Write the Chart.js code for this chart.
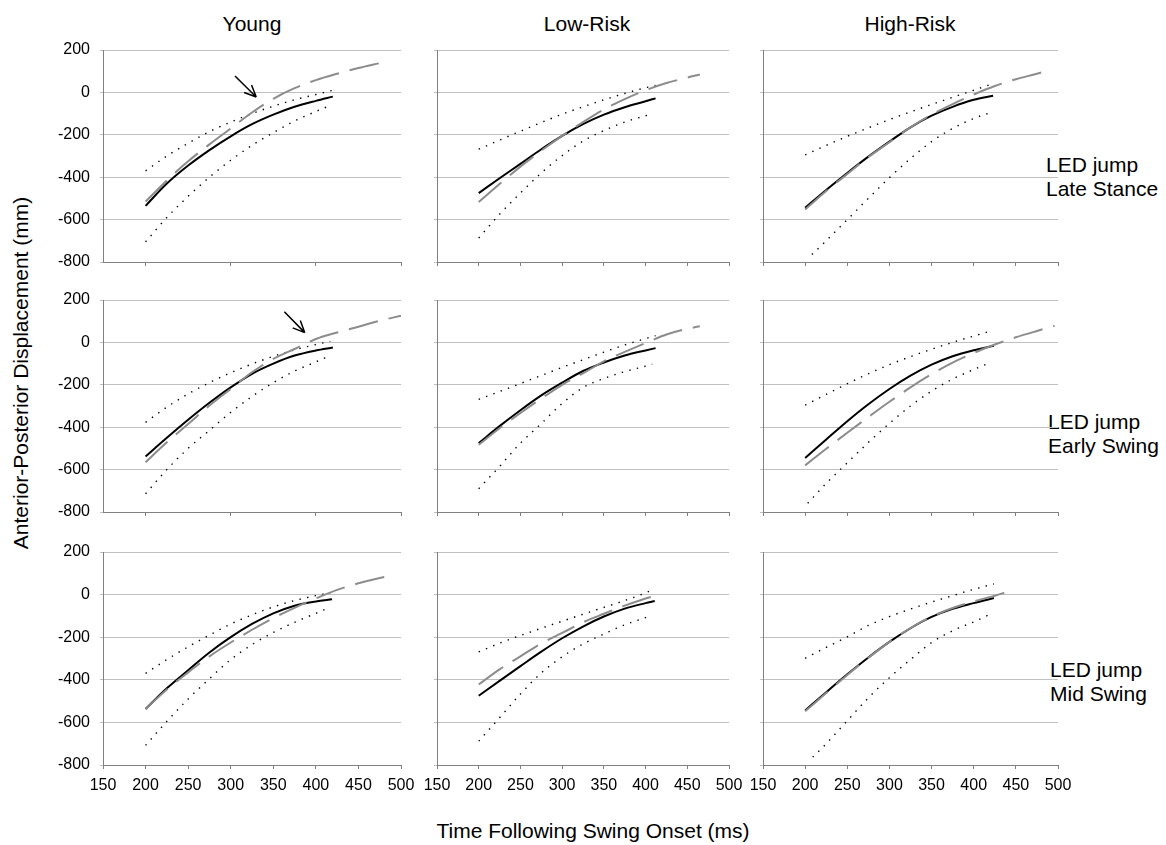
<!DOCTYPE html>
<html lang="en">
<head>
<meta charset="utf-8">
<title>Anterior-Posterior Displacement</title>
<script src="https://cdn.jsdelivr.net/npm/chart.js@4.4.1/dist/chart.umd.min.js"></script>
<style>
    body { margin: 0; background: #fff; }
    #figura {
        position: relative;
        width: 1166px;
        height: 845px;
        overflow: hidden;
        font-family: Arial, "Liberation Sans", sans-serif;
        color: #000;
    }
    #figura canvas { position: absolute; }
    .rotulo {
        position: absolute;
        white-space: nowrap;
        line-height: 1;
        font-size: 21px;
        transform: translate(-50%, -50%);
    }
    .linha-rotulo {
        position: absolute;
        white-space: nowrap;
        font-size: 21px;
        line-height: 23.5px;
    }
</style>
</head>
<body>
<div id="figura">
    <div class="rotulo" style="left:252px; top:23px;">Young</div>
    <div class="rotulo" style="left:587px; top:23px;">Low-Risk</div>
    <div class="rotulo" style="left:910px; top:23px;">High-Risk</div>

    <div class="linha-rotulo" style="left:1046px; top:153px;">LED jump<br>Late Stance</div>
    <div class="linha-rotulo" style="left:1048px; top:410px;">LED jump<br>Early Swing</div>
    <div class="linha-rotulo" style="left:1050px; top:658px;">LED jump<br>Mid Swing</div>

    <div class="rotulo" style="left:20px; top:373px; transform: translate(-50%, -50%) rotate(-90deg);">Anterior-Posterior Displacement (mm)</div>
    <div class="rotulo" style="left:593px; top:830px;">Time Following Swing Onset (ms)</div>
</div>

<script>
// Eixos comuns a todos os painéis
const limitesX = [150, 500];
const passoX = 50;
const limitesY = [-800, 200];
const passoY = 200;

// Young - Late Stance
const mediaYoungLate = [[200,-535],[225,-430],[250,-345],[275,-272],[300,-207],[325,-150],[350,-105],[375,-68],[400,-40],[420,-20]];
const previstoYoungLate = [[200,-515],[225,-415],[250,-325],[275,-245],[300,-170],[325,-95],[350,-30],[375,20],[400,58],[425,88],[450,115],[475,138]];
const supYoungLate = [[200,-370],[225,-300],[250,-240],[275,-185],[300,-140],[325,-100],[350,-65],[375,-35],[400,-10],[420,10]];
const infYoungLate = [[200,-705],[225,-590],[250,-490],[275,-400],[300,-320],[325,-250],[350,-190],[375,-135],[400,-90],[415,-65]];

// Low-Risk - Late Stance
const mediaLowLate = [[200,-475],[225,-405],[250,-337],[275,-268],[300,-205],[325,-150],[350,-105],[375,-70],[400,-42],[412,-28]];
const previstoLowLate = [[200,-517],[225,-432],[250,-350],[275,-275],[300,-205],[325,-140],[350,-80],[375,-32],[400,10],[425,44],[450,70],[465,84]];
const supLowLate = [[200,-268],[225,-225],[250,-183],[275,-142],[300,-103],[325,-68],[350,-35],[375,-5],[400,22],[412,33]];
const infLowLate = [[200,-687],[225,-575],[250,-475],[275,-380],[300,-298],[325,-230],[350,-180],[375,-140],[400,-110],[408,-101]];

// High-Risk - Late Stance
const mediaHighLate = [[200,-544],[225,-460],[250,-380],[275,-303],[300,-232],[325,-165],[350,-110],[375,-68],[400,-35],[423,-16]];
const previstoHighLate = [[200,-552],[225,-465],[250,-385],[275,-305],[300,-235],[325,-165],[350,-105],[375,-55],[400,-10],[425,30],[450,62],[475,88],[488,103]];
const supHighLate = [[200,-295],[225,-250],[250,-207],[275,-167],[300,-128],[325,-92],[350,-57],[375,-23],[400,10],[422,40]];
const infHighLate = [[208,-765],[225,-700],[250,-600],[275,-500],[300,-402],[325,-312],[350,-232],[375,-170],[400,-123],[420,-95]];

// Young - Early Swing
const mediaYoungEarly = [[200,-538],[225,-450],[250,-365],[275,-285],[300,-212],[325,-148],[350,-100],[375,-62],[400,-38],[420,-24]];
const previstoYoungEarly = [[200,-565],[225,-471],[250,-385],[275,-298],[300,-220],[325,-141],[350,-78],[375,-31],[400,16],[425,47],[450,74],[475,102],[500,126]];
const supYoungEarly = [[200,-377],[225,-305],[250,-243],[275,-190],[300,-143],[325,-102],[350,-66],[375,-35],[400,-10],[417,5]];
const infYoungEarly = [[200,-714],[225,-600],[250,-500],[275,-415],[300,-330],[325,-255],[350,-190],[375,-135],[400,-92],[416,-63]];

// Low-Risk - Early Swing
const mediaLowEarly = [[200,-475],[225,-395],[250,-320],[275,-250],[300,-190],[325,-135],[350,-95],[375,-62],[400,-38],[412,-27]];
const previstoLowEarly = [[200,-483],[225,-405],[250,-333],[275,-265],[300,-200],[325,-146],[350,-89],[375,-45],[400,-3],[425,37],[450,64],[465,76]];
const supLowEarly = [[200,-269],[225,-232],[250,-194],[275,-156],[300,-118],[325,-82],[350,-46],[375,-12],[400,18],[412,32]];
const infLowEarly = [[200,-690],[225,-585],[250,-475],[275,-383],[300,-288],[325,-213],[350,-170],[375,-138],[400,-112],[408,-103]];

// High-Risk - Early Swing
const mediaHighEarly = [[200,-545],[225,-458],[250,-372],[275,-292],[300,-220],[325,-157],[350,-105],[375,-65],[400,-37],[424,-16]];
const previstoHighEarly = [[200,-580],[225,-502],[250,-426],[275,-352],[300,-280],[325,-212],[350,-150],[375,-95],[400,-50],[425,-10],[450,24],[475,54],[496,78]];
const supHighEarly = [[200,-296],[225,-245],[250,-195],[275,-148],[300,-105],[325,-67],[350,-32],[375,0],[400,30],[419,52]];
const infHighEarly = [[203,-759],[225,-665],[250,-568],[275,-472],[300,-382],[325,-300],[350,-230],[375,-173],[400,-128],[419,-96]];

// Young - Mid Swing
const mediaYoungMid = [[200,-537],[225,-440],[250,-355],[275,-272],[300,-200],[325,-138],[350,-88],[375,-52],[400,-32],[419,-22]];
const previstoYoungMid = [[200,-537],[225,-445],[250,-365],[275,-290],[300,-225],[325,-165],[350,-110],[375,-62],[400,-18],[425,22],[450,53],[475,78],[492,92]];
const supYoungMid = [[200,-370],[225,-305],[250,-245],[275,-190],[300,-138],[325,-95],[350,-58],[375,-28],[400,-5],[417,9]];
const infYoungMid = [[200,-708],[225,-595],[250,-490],[275,-395],[300,-305],[325,-235],[350,-178],[375,-130],[400,-88],[414,-64]];

// Low-Risk - Mid Swing
const mediaLowMid = [[200,-475],[225,-405],[250,-336],[275,-268],[300,-205],[325,-150],[350,-103],[375,-66],[400,-40],[411,-30]];
const previstoLowMid = [[200,-422],[225,-351],[250,-290],[275,-229],[300,-180],[325,-130],[350,-90],[375,-52],[400,-18],[418,0]];
const supLowMid = [[200,-269],[225,-228],[250,-192],[275,-158],[300,-125],[325,-92],[350,-60],[375,-28],[400,8],[411,28]];
const infLowMid = [[200,-688],[225,-578],[250,-467],[275,-368],[300,-292],[325,-232],[350,-185],[375,-142],[400,-108],[407,-98]];

// High-Risk - Mid Swing
const mediaHighMid = [[200,-544],[225,-458],[250,-374],[275,-295],[300,-222],[325,-158],[350,-105],[375,-67],[400,-40],[424,-16]];
const previstoHighMid = [[200,-548],[225,-462],[250,-377],[275,-297],[300,-222],[325,-157],[350,-103],[375,-63],[400,-32],[425,-5],[440,13]];
const supHighMid = [[200,-299],[225,-248],[250,-198],[275,-145],[300,-103],[325,-68],[350,-35],[375,-5],[400,25],[424,50]];
const infHighMid = [[209,-763],[225,-700],[250,-592],[275,-485],[300,-390],[325,-305],[350,-225],[375,-170],[400,-128],[418,-95]];

// Setas de destaque (em unidades dos eixos)
const setaYoungLate = { de: [305, 77], ate: [330, -22] };
const setaYoungEarly = { de: [363, 145], ate: [387, 46] };

// Painéis: [linha][coluna]
const paineis = [
    [
        { media: mediaYoungLate, previsto: previstoYoungLate, sup: supYoungLate, inf: infYoungLate, seta: setaYoungLate },
        { media: mediaLowLate, previsto: previstoLowLate, sup: supLowLate, inf: infLowLate },
        { media: mediaHighLate, previsto: previstoHighLate, sup: supHighLate, inf: infHighLate }
    ],
    [
        { media: mediaYoungEarly, previsto: previstoYoungEarly, sup: supYoungEarly, inf: infYoungEarly, seta: setaYoungEarly },
        { media: mediaLowEarly, previsto: previstoLowEarly, sup: supLowEarly, inf: infLowEarly },
        { media: mediaHighEarly, previsto: previstoHighEarly, sup: supHighEarly, inf: infHighEarly }
    ],
    [
        { media: mediaYoungMid, previsto: previstoYoungMid, sup: supYoungMid, inf: infYoungMid },
        { media: mediaLowMid, previsto: previstoLowMid, sup: supLowMid, inf: infLowMid },
        { media: mediaHighMid, previsto: previstoHighMid, sup: supHighMid, inf: infHighMid }
    ]
];

// Posição da área de plotagem de cada coluna e linha (px na página)
const colunas = [
    { esq: 103, dir: 401 },
    { esq: 437, dir: 729 },
    { esq: 763, dir: 1058 }
];
const linhas = [
    { topo: 50, base: 262 },
    { topo: 300, base: 512 },
    { topo: 552, base: 765 }
];
const MARGEM_ESQ = 60;
const MARGEM_TOPO = 12;
const MARGEM_DIR = 24;
const ALTURA_EIXO_X = 34;

const corEixo = '#808080';
const corGrade = '#c0c0c0';

Chart.defaults.font.family = 'Arial, "Liberation Sans", sans-serif';
Chart.defaults.font.size = 16;
Chart.defaults.color = '#000';

// Desenha a seta (haste + ponta aberta)
const pluginSeta = {
    id: 'seta',
    afterDatasetsDraw(chart, args, opts) {
        if (!opts || !opts.de) return;
        const { ctx, scales } = chart;
        const x0 = scales.x.getPixelForValue(opts.de[0]);
        const y0 = scales.y.getPixelForValue(opts.de[1]);
        const x1 = scales.x.getPixelForValue(opts.ate[0]);
        const y1 = scales.y.getPixelForValue(opts.ate[1]);
        const ang = Math.atan2(y1 - y0, x1 - x0);
        ctx.save();
        ctx.strokeStyle = '#000';
        ctx.lineWidth = 1.5;
        ctx.beginPath();
        ctx.moveTo(x0, y0);
        ctx.lineTo(x1, y1);
        [-1, 1].forEach(s => {
            ctx.moveTo(x1, y1);
            ctx.lineTo(x1 - 13 * Math.cos(ang + s * 0.42), y1 - 13 * Math.sin(ang + s * 0.42));
        });
        ctx.stroke();
        ctx.restore();
    }
};
Chart.register(pluginSeta);

function pontos(serie) {
    return serie.map(([x, y]) => ({ x, y }));
}

function criarPainel(linha, coluna) {
    const serie = paineis[linha][coluna];
    const c = colunas[coluna];
    const l = linhas[linha];

    const canvas = document.createElement('canvas');
    canvas.width = c.dir - c.esq + MARGEM_ESQ + MARGEM_DIR;
    canvas.height = l.base - l.topo + MARGEM_TOPO + ALTURA_EIXO_X;
    canvas.style.left = (c.esq - MARGEM_ESQ) + 'px';
    canvas.style.top = (l.topo - MARGEM_TOPO) + 'px';
    document.getElementById('figura').appendChild(canvas);

    // Na coluna Young, linhas de cima, só há marcas a cada 100 ms
    const soCentenas = coluna === 0 && linha < 2;

    const base = {
        pointRadius: 0,
        fill: false,
        cubicInterpolationMode: 'monotone',
        borderCapStyle: 'butt'
    };

    new Chart(canvas, {
        type: 'line',
        data: {
            datasets: [
                { ...base, data: pontos(serie.previsto), borderColor: '#8c8c8c', borderWidth: 2, borderDash: [30, 11] },
                { ...base, data: pontos(serie.media), borderColor: '#000', borderWidth: 2 },
                { ...base, data: pontos(serie.sup), borderColor: '#000', borderWidth: 1.4, borderDash: [1.4, 6.4] },
                { ...base, data: pontos(serie.inf), borderColor: '#000', borderWidth: 1.4, borderDash: [1.4, 6.4] }
            ]
        },
        options: {
            responsive: false,
            animation: false,
            events: [],
            layout: {
                padding: { left: 0, top: MARGEM_TOPO, right: MARGEM_DIR, bottom: 0 }
            },
            plugins: {
                legend: { display: false },
                tooltip: { enabled: false },
                seta: serie.seta || {}
            },
            scales: {
                x: {
                    type: 'linear',
                    min: limitesX[0],
                    max: limitesX[1],
                    ticks: {
                        stepSize: passoX,
                        display: linha === 2,
                        padding: 7,
                        maxRotation: 0,
                        autoSkip: false
                    },
                    grid: {
                        drawOnChartArea: false,
                        drawTicks: true,
                        tickLength: 4,
                        color: ctx => (soCentenas && ctx.tick && ctx.tick.value % 100 !== 0) ? 'rgba(0,0,0,0)' : corEixo
                    },
                    border: { color: corEixo, width: 1 },
                    afterFit: s => {
                        s.height = ALTURA_EIXO_X;
                        s.paddingLeft = 0;
                        s.paddingRight = 0;
                    }
                },
                y: {
                    type: 'linear',
                    min: limitesY[0],
                    max: limitesY[1],
                    ticks: {
                        stepSize: passoY,
                        display: coluna === 0,
                        padding: 10
                    },
                    grid: {
                        color: corGrade,
                        tickLength: 3
                    },
                    border: { color: corEixo, width: 1 },
                    afterFit: s => {
                        s.width = MARGEM_ESQ;
                        s.paddingTop = 0;
                        s.paddingBottom = 0;
                    }
                }
            }
        }
    });
}

for (let linha = 0; linha < 3; linha++) {
    for (let coluna = 0; coluna < 3; coluna++) {
        criarPainel(linha, coluna);
    }
}
</script>
</body>
</html>
